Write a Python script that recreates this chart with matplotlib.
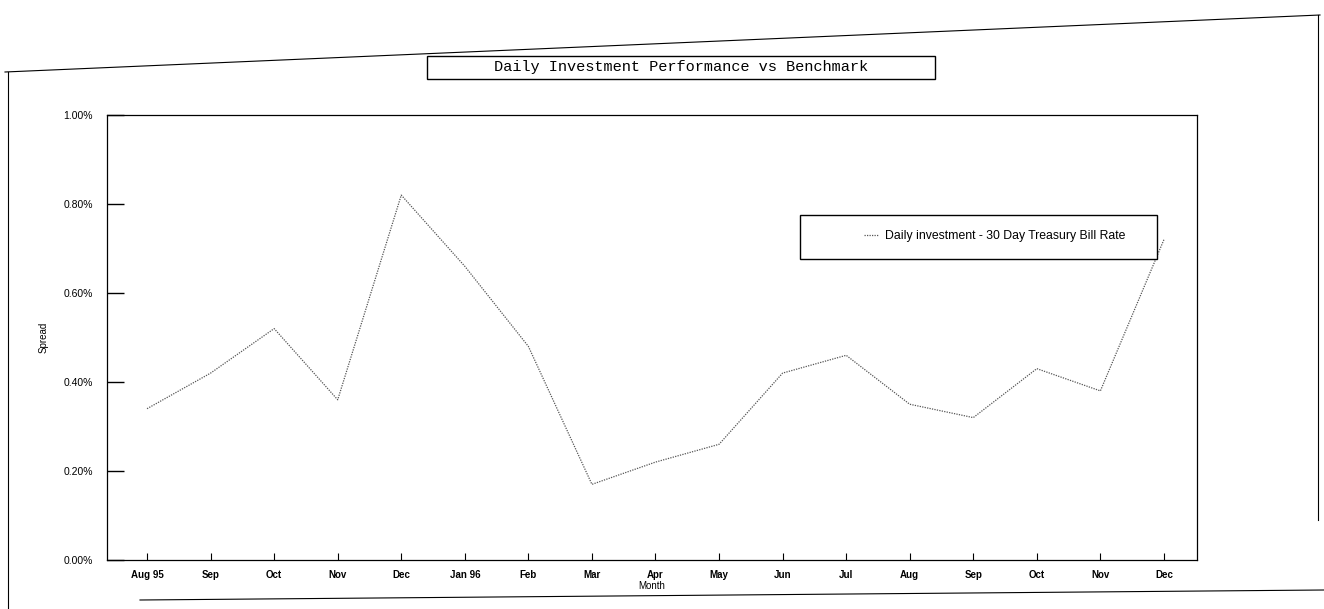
import numpy as np
import matplotlib.pyplot as plt
from matplotlib.lines import Line2D
from matplotlib.patches import Rectangle

# values (spread, in percent)
months = ["Aug 95", "Sep", "Oct", "Nov", "Dec", "Jan 96", "Feb", "Mar", "Apr",
          "May", "Jun", "Jul", "Aug", "Sep", "Oct", "Nov", "Dec"]
spread = [0.34, 0.42, 0.52, 0.36, 0.82, 0.66, 0.48, 0.17, 0.22,
          0.26, 0.42, 0.46, 0.35, 0.32, 0.43, 0.38, 0.72]
y_ticks = [0.0, 0.2, 0.4, 0.6, 0.8, 1.0]
y_labels = ["0.00%", "0.20%", "0.40%", "0.60%", "0.80%", "1.00%"]
series_label = "Daily investment - 30 Day Treasury Bill Rate"
title = "Daily Investment Performance vs Benchmark"

W, H = 1324, 609


def px(x, y):
	# pixel position -> figure fraction
	return x / W, 1 - y / H


def page_frame(fig):
	# edges of the scanned sheet
	segs = [((5, 72), (1320, 15)), ((8, 72), (8, 609)),
	        ((1318, 15), (1318, 520)), ((140, 600), (1324, 590))]
	for a, b in segs:
		(x0, y0), (x1, y1) = px(*a), px(*b)
		fig.add_artist(Line2D([x0, x1], [y0, y1], color='black', lw=0.8,
		                      transform=fig.transFigure))


def main():
	plt.rcParams['font.family'] = ['Liberation Sans', 'DejaVu Sans']
	fig = plt.figure(figsize=(W / 100, H / 100), dpi=100)
	page_frame(fig)

	# title in a box
	bx, by = px(427, 79)
	fig.add_artist(Rectangle((bx, by), 508 / W, 23 / H, transform=fig.transFigure,
	                         fill=False, edgecolor='black', lw=1))
	fig.text(681 / W, 1 - 67 / H, title, ha='center', va='center',
	         family='Liberation Mono', fontsize=11)

	ax = fig.add_axes([107 / W, 1 - 560 / H, 1090 / W, 445 / H])
	x = np.arange(len(months))
	ax.plot(x, spread, color='#555555', lw=0.9, ls=(0, (1, 1)), zorder=3,
	        label=series_label)

	ax.set_xlim(-0.63, len(months) - 1 + 0.52)
	ax.set_ylim(0, 1.0)
	ax.set_xticks(x)
	ax.set_xticklabels(months, fontsize=7, fontweight='bold')
	ax.set_yticks(y_ticks)
	ax.set_yticklabels(y_labels, fontsize=7.5)
	ax.tick_params(axis='y', direction='in', length=12, width=1, pad=10)
	ax.tick_params(axis='x', direction='in', length=5, width=0.8, pad=7)
	ax.set_xlabel("Month", fontsize=7, labelpad=1)
	ax.set_ylabel("Spread", fontsize=7, labelpad=11)
	for s in ax.spines.values():
		s.set_linewidth(0.9)

	# legend box sits on top of the line
	ax.add_patch(Rectangle((0.636, 0.676), 0.327, 0.099, transform=ax.transAxes,
	                       facecolor='white', edgecolor='black', lw=1, zorder=4))
	leg = ax.legend(loc='center left', bbox_to_anchor=(0.689, 0.728), frameon=False,
	                fontsize=8.8, borderpad=0, handlelength=1.2, handletextpad=0.5)
	leg.set_zorder(5)

	fig.savefig("out.png", dpi=100)


if __name__ == "__main__":
	main()
